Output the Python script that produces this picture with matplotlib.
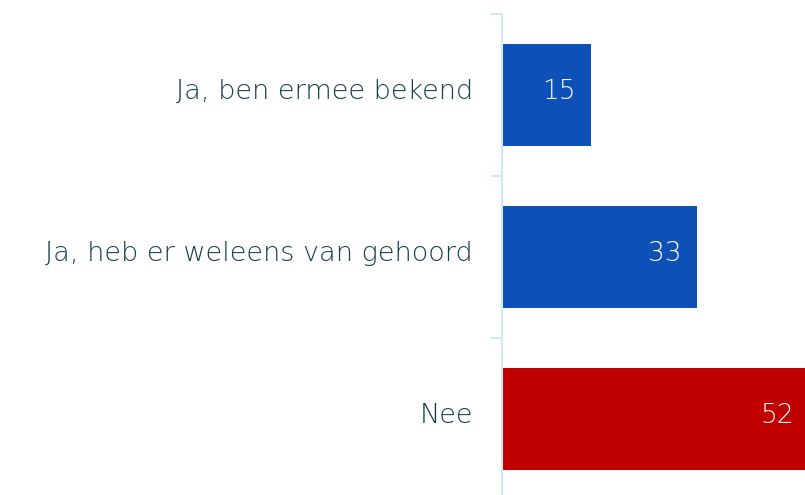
import matplotlib
matplotlib.use('Agg')
import matplotlib.pyplot as plt

# data
categories = ['Ja, ben ermee bekend', 'Ja, heb er weleens van gehoord', 'Nee']
values = [15, 33, 52]
colors = ['#0c50b8', '#0c50b8', '#c00000']

plt.rcParams['font.family'] = ['DejaVu Sans']

fig = plt.figure(figsize=(8.05, 4.95), dpi=100)
ax = fig.add_axes([502/805, -5/495, 303/805, 486/495])

pos = list(range(len(categories)))
ax.barh(pos, values, height=0.625, color=colors)
ax.set_ylim(len(categories) - 0.5, -0.5)
ax.set_xlim(0, 51.2)

# value labels, right aligned inside bar end
for p, v in zip(pos, values):
    ax.text(v - 2.6, p - 0.02, str(v), ha='right', va='center', color='white',
            fontsize=19, fontweight=200)

# category boundaries as ticks
ax.set_yticks([p - 0.5 for p in pos] + [len(categories) - 0.5])
ax.set_yticklabels([])
ax.tick_params(axis='y', length=8, width=1.5, color='#cdeef1')
for p, c in zip(pos, categories):
    ax.text(-29/5.92, p - 0.02, c, ha='right', va='center', color='#173f4a',
            fontsize=19.5, fontweight=200)

ax.set_xticks([])
for s in ['top', 'right', 'bottom']:
    ax.spines[s].set_visible(False)
ax.spines['left'].set_color('#cdeef1')
ax.spines['left'].set_linewidth(1.5)
ax.set_zorder(1)

fig.savefig('out.png', dpi=100)
